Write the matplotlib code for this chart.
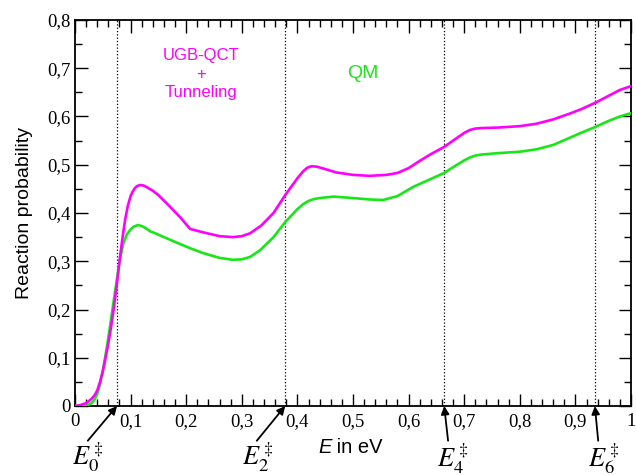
import matplotlib
matplotlib.use("Agg")
import matplotlib.pyplot as plt
from matplotlib.ticker import MultipleLocator, FuncFormatter

# Data
qct_x = [0.0, 0.01, 0.02, 0.03, 0.035, 0.04, 0.045, 0.05, 0.055, 0.06, 0.065, 0.07, 0.075, 0.08,
         0.085, 0.09, 0.095, 0.10, 0.104, 0.108, 0.112, 0.117, 0.123, 0.13, 0.14, 0.15, 0.165,
         0.19, 0.207, 0.23, 0.26, 0.284, 0.30, 0.315, 0.335, 0.357, 0.378, 0.40, 0.41, 0.418,
         0.425, 0.435, 0.45, 0.47, 0.50, 0.53, 0.56, 0.58, 0.60, 0.62, 0.64, 0.664, 0.68, 0.69,
         0.70, 0.71, 0.72, 0.73, 0.76, 0.80, 0.83, 0.86, 0.89, 0.91, 0.935, 0.96, 0.98, 1.0]
qct_y = [0.0, 0.002, 0.006, 0.015, 0.022, 0.032, 0.05, 0.072, 0.10, 0.13, 0.165, 0.205, 0.25, 0.30,
         0.345, 0.385, 0.415, 0.435, 0.445, 0.452, 0.456, 0.458, 0.457, 0.453, 0.446, 0.437, 0.42,
         0.39, 0.367, 0.36, 0.352, 0.35, 0.352, 0.358, 0.374, 0.40, 0.437, 0.472, 0.486, 0.494,
         0.497, 0.496, 0.491, 0.484, 0.479, 0.477, 0.479, 0.483, 0.493, 0.508, 0.522, 0.537, 0.55, 0.558,
         0.566, 0.572, 0.575, 0.576, 0.577, 0.58, 0.585, 0.594, 0.606, 0.615, 0.628, 0.643, 0.655, 0.663]

qm_x = [0.0, 0.02, 0.03, 0.035, 0.04, 0.045, 0.05, 0.057, 0.063, 0.069, 0.075, 0.081, 0.087, 0.093,
        0.10, 0.106, 0.113, 0.12, 0.128, 0.135, 0.14, 0.16, 0.18, 0.207, 0.23, 0.26, 0.284, 0.30,
        0.315, 0.333, 0.357, 0.378, 0.40, 0.41, 0.42, 0.43, 0.44, 0.465, 0.50, 0.53, 0.554, 0.58,
        0.608, 0.635, 0.664, 0.68, 0.69, 0.70, 0.71, 0.72, 0.73, 0.76, 0.80, 0.83, 0.86, 0.89,
        0.91, 0.935, 0.96, 0.98, 1.0]
qm_y = [0.0, 0.0, 0.006, 0.013, 0.025, 0.045, 0.072, 0.12, 0.165, 0.213, 0.26, 0.305, 0.337, 0.355,
        0.366, 0.372, 0.375, 0.373, 0.368, 0.362, 0.36, 0.35, 0.34, 0.327, 0.317, 0.307, 0.303, 0.304,
        0.309, 0.323, 0.35, 0.381, 0.408, 0.418, 0.425, 0.429, 0.431, 0.434, 0.431, 0.428, 0.427, 0.435,
        0.454, 0.468, 0.483, 0.495, 0.502, 0.509, 0.515, 0.519, 0.521, 0.524, 0.527, 0.532, 0.541, 0.556,
        0.566, 0.578, 0.591, 0.60, 0.607]

barrier_x = [0.0755, 0.378, 0.664, 0.935]
barrier_labels = [r"$E_0^\ddagger$", r"$E_2^\ddagger$", r"$E_4^\ddagger$", r"$E_6^\ddagger$"]
label_x = [0.024, 0.329, 0.680, 0.951]
tail_x = [0.023, 0.327, 0.671, 0.941]

plt.rcParams['mathtext.fontset'] = 'stix'

fig = plt.figure(figsize=(6.36, 4.75), dpi=100)
ax = fig.add_axes([75/636, 69/475, 556/636, 386/475])

for xv in barrier_x:
    ax.axvline(xv, color='black', linestyle=':', linewidth=0.9, zorder=1)

ax.plot(qm_x, qm_y, color='#19e619', linewidth=1.9, zorder=3)
ax.plot(qct_x, qct_y, color='#ff00ff', linewidth=1.9, zorder=3)

ax.set_xlim(0, 1)
ax.set_ylim(0, 0.8)

fmt = FuncFormatter(lambda v, p: ("%g" % round(v, 3)).replace('.', ','))
ax.xaxis.set_major_locator(MultipleLocator(0.1))
ax.xaxis.set_minor_locator(MultipleLocator(0.02))
ax.yaxis.set_major_locator(MultipleLocator(0.1))
ax.yaxis.set_minor_locator(MultipleLocator(0.05))
ax.xaxis.set_major_formatter(fmt)
ax.yaxis.set_major_formatter(fmt)

ax.tick_params(which='both', direction='in', top=True, right=True, width=1.0, color='black')
ax.tick_params(which='major', length=9)
ax.tick_params(which='minor', length=5)
ax.tick_params(axis='x', which='major', pad=5)
for lab in ax.get_xticklabels() + ax.get_yticklabels():
    lab.set_fontfamily('Liberation Serif')
    lab.set_fontsize(13.5)
for sp in ax.spines.values():
    sp.set_linewidth(1.3)

ax.set_ylabel("Reaction probability", family='Liberation Sans', fontsize=14, labelpad=10)
ax.annotate("E", xy=(0.5, 0), xycoords='axes fraction', xytext=(-15.5, -30),
            textcoords='offset points', family='Liberation Sans', style='italic',
            fontsize=14.5, ha='right', va='center', annotation_clip=False)
ax.annotate(" in eV", xy=(0.5, 0), xycoords='axes fraction', xytext=(-15.5, -30),
            textcoords='offset points', family='Liberation Sans',
            fontsize=14.5, ha='left', va='center', annotation_clip=False)

ax.text(0.226, 0.688, "UGB-QCT\n+\nTunneling", color='#ff00ff', family='Liberation Sans',
        fontsize=12, ha='center', va='center', linespacing=1.3)
ax.text(0.518, 0.69, "QM", color='#19e619', family='Liberation Sans', fontsize=14,
        ha='center', va='center')

for xv, lx, tx, lab in zip(barrier_x, label_x, tail_x, barrier_labels):
    ax.annotate("", xy=(xv, 0.0), xytext=(tx, -0.072), annotation_clip=False,
                arrowprops=dict(arrowstyle='-|>', color='black', lw=1.3,
                                mutation_scale=12, shrinkA=0, shrinkB=0))
    ax.text(lx, -0.108, lab, fontsize=19, ha='center', va='center', clip_on=False)

fig.savefig("out.png", dpi=100)
